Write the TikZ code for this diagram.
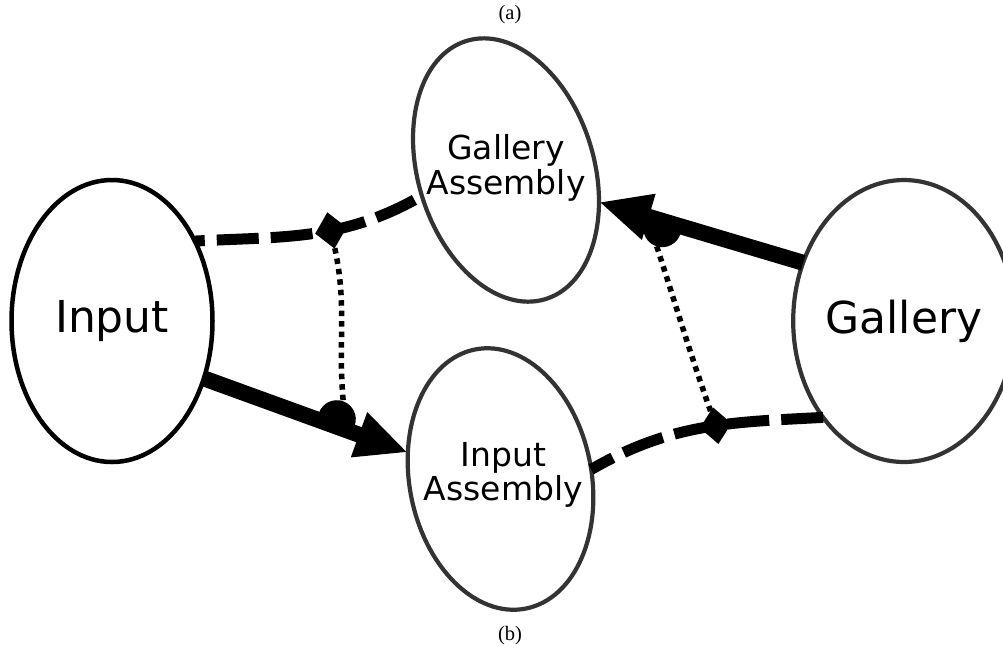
\documentclass[tikz,border=0pt]{standalone}
\usepackage{fontspec}
\setmainfont{DejaVu Sans}
\newfontfamily\capfont{Liberation Serif}
\usetikzlibrary{shapes.geometric,arrows.meta,calc}
\definecolor{outline}{HTML}{333333}

\begin{document}
\begin{tikzpicture}[x=1pt,y=1pt,
  blob/.style={ellipse, draw, line width=4.5pt, inner sep=0pt, outer sep=0pt,
    minimum width=201pt, minimum height=282pt, font=\fontsize{44}{50}\selectfont},
  tilted/.style={ellipse, draw=outline, line width=4.2pt, inner sep=0pt, outer sep=0pt},
  lbl/.style={align=center, inner sep=0pt, font=\fontsize{33}{34.5}\selectfont},
  dashy/.style={line width=11pt, dash pattern=on 42pt off 12pt},
  dotty/.style={line width=5.5pt, dash pattern=on 5.5pt off 5pt},
  heavy/.style={line width=16pt, -{Triangle[length=52pt,width=44pt]}},
  gem/.style={diamond, fill, inner sep=0pt, outer sep=0pt, minimum width=32pt, minimum height=37pt},
  halfdisc/.style={semicircle, fill, inner sep=0pt, outer sep=0pt, minimum width=38pt, minimum height=19pt},
  captext/.style={font=\capfont\fontsize{20.5}{24}\selectfont}
]
\useasboundingbox (0,0) rectangle (1003,-649);

% the four sets
\node[blob] (in) at (112,-321) {Input};
\node[blob, line width=4.2pt, draw=outline] (gal) at (904,-321) {Gallery};
\node[tilted, rotate=17, minimum width=176pt, minimum height=270pt] (ga) at (506,-170) {};
\node[tilted, rotate=11, minimum width=182pt, minimum height=264pt] (ia) at (500.5,-479) {};
\node[lbl] (gat) at (506,-168) {Gallery\\Assembly};
\node[lbl] (iat) at (503.5,-475) {Input\\Assembly};

% dashed links with their diamond joints
\draw[dashy, dash phase=32pt] (in.44) to[out=3,in=210]
  node[pos=0.585, sloped, gem] (d1) {} (ga.180);
\draw[dashy] (gal.230) to[out=183,in=30]
  node[pos=0.44, sloped, gem] (d2) {} (ia.-5);

% heavy arrows
\draw[heavy] (in.-32) -- (ia.153);
\draw[heavy] (gal.150) -- (ga.-36);

% half discs sitting on the arrow shafts
\coordinate (m3) at ($(in.-32)!0.64!(ia.153)$);
\node[halfdisc, rotate=-19.7, anchor=chord center] (h3) at ($(m3)!7pt!90:(ia.153)$) {};
\coordinate (m2) at ($(gal.150)!0.68!(ga.-36)$);
\node[halfdisc, rotate=163, anchor=chord center] (h2) at ($(m2)!7pt!90:(ga.-36)$) {};

% dotted correspondences
\draw[dotty] (d1) to[out=-80,in=95] (h3.apex);
\draw[dotty] (h2.apex) to[out=-72,in=108] (d2);

% captions
\node[captext] (la) at (510,-15) {(a)};
\node[captext] (lb) at (510,-636) {(b)};
\end{tikzpicture}
\end{document}
